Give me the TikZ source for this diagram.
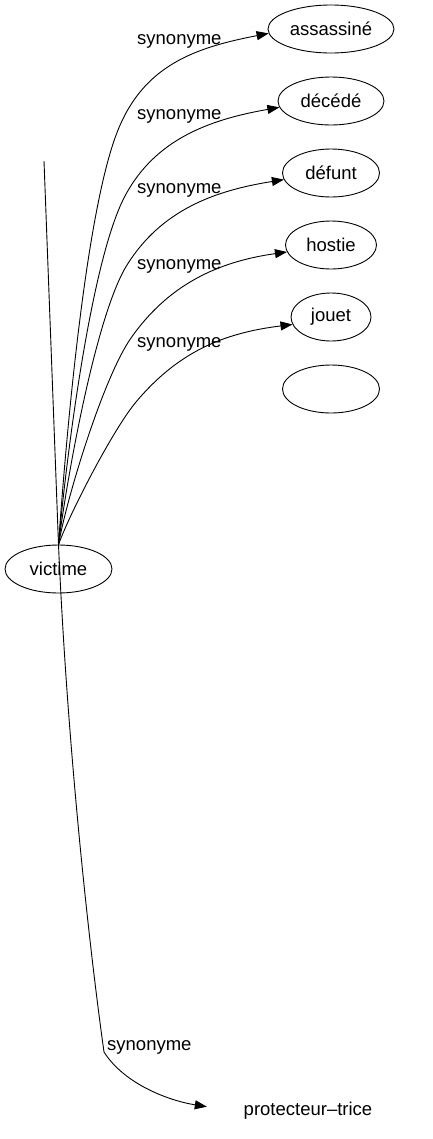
\documentclass[tikz,border=0pt]{standalone}
\usepackage{fontspec}
\setmainfont{Liberation Sans}
\usetikzlibrary{shapes.geometric,arrows.meta}
\def\synnode{\node[syn]}
\def\drawsyn{\draw[rel]}
\def\synlabel{\node[lab]}

\begin{document}
\begin{tikzpicture}[x=1bp,y=1bp,
  every node/.append style={font=\fontsize{18.5bp}{22bp}\selectfont},
  syn/.style={ellipse,draw,line width=0.9bp,minimum height=48bp,inner sep=0pt},
  rel/.style={line width=0.9bp,-{Triangle[length=12bp,width=9bp]}},
  lab/.style={anchor=base west,inner sep=0pt}]
\useasboundingbox (0,0) rectangle (432,-1139);

% the centre word and its synonyms
\synnode[minimum width=107bp] (victime) at (58.5,-569) {victime};
\synnode[minimum width=126bp] (assassine) at (331,-29) {assassiné};
\synnode[minimum width=106bp] (decede) at (331,-101) {décédé};
\synnode[minimum width=97bp] (defunt) at (331,-173) {défunt};
\synnode[minimum width=91bp] (hostie) at (331,-245) {hostie};
\synnode[minimum width=80bp] (jouet) at (331,-317) {jouet};
\synnode[minimum width=97bp] (blank) at (331,-389) {};
\node[anchor=base,minimum width=202bp,inner sep=0pt] (protecteur) at (308,-1115) {protecteur–trice};

% line coming down from above
\coordinate (top) at (44,-161);
\draw[line width=0.9bp] (top) -- (victime.north);

% -------- upper fan ---------
% each edge bends at a knee just under the next label
\coordinate (knee1) at (118,-130);
\coordinate (knee2) at (125,-196);
\coordinate (knee3) at (127,-265);
\coordinate (knee4) at (131,-338);
\coordinate (knee5) at (136,-402);
\drawsyn (victime.north) to[out=86,in=248,distance=90bp] (knee1)
  to[out=68,in=191,out distance=70bp,in distance=75bp] (assassine.184);
\drawsyn (victime.north) to[out=85,in=242,distance=75bp] (knee2)
  to[out=62,in=190,out distance=65bp,in distance=70bp] (decede.187);
\drawsyn (victime.north) to[out=83,in=238,distance=60bp] (knee3)
  to[out=58,in=189,out distance=65bp,in distance=70bp] (defunt.188);
\drawsyn (victime.north) to[out=80,in=235,distance=48bp] (knee4)
  to[out=55,in=188,out distance=65bp,in distance=70bp] (hostie.189);
\drawsyn (victime.north) to[out=70,in=230,distance=35bp] (knee5)
  to[out=50,in=187,out distance=65bp,in distance=70bp] (jouet.191);
\synlabel (lab1) at (137,-44) {synonyme};
\synlabel (lab2) at (137,-119) {synonyme};
\synlabel (lab3) at (137,-193) {synonyme};
\synlabel (lab4) at (137,-269) {synonyme};
\synlabel (lab5) at (137,-347) {synonyme};

% -------- long edge down ---------
\coordinate (bend) at (104,-1052);
\drawsyn (victime.north) to[out=-87.5,in=98,out distance=205bp,in distance=103bp] (bend)
  to[out=-57.5,in=171,out distance=39bp,in distance=37bp] (protecteur.178);
\synlabel (lab6) at (107,-1050) {synonyme};
\end{tikzpicture}
\end{document}
